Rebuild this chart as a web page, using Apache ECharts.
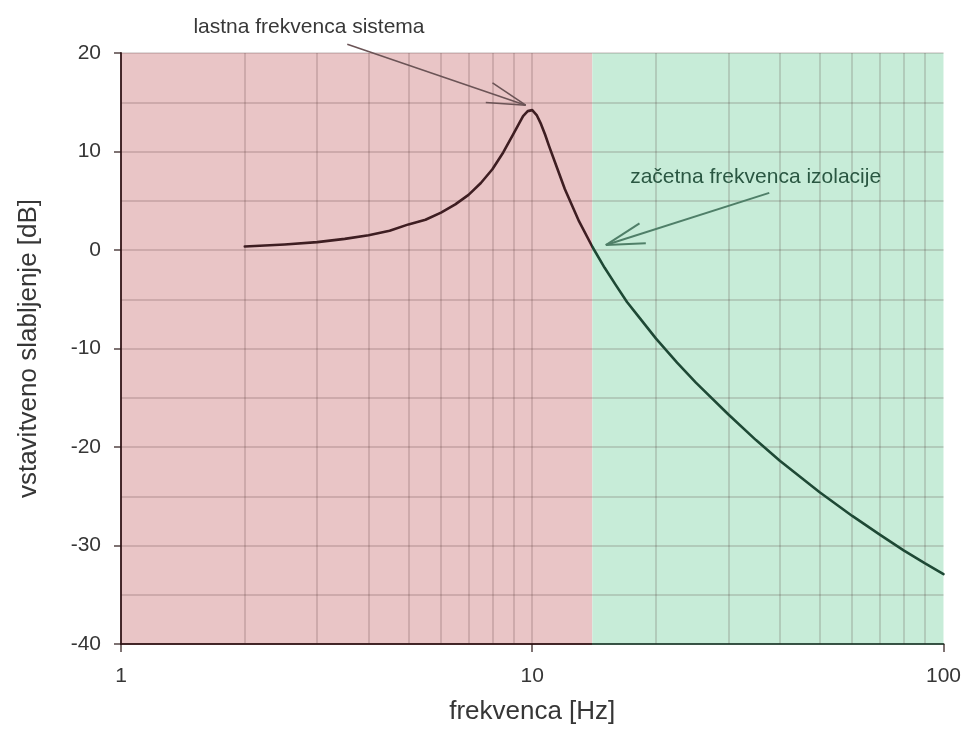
<!DOCTYPE html>
<html>
<head>
<meta charset="utf-8">
<script src="https://cdn.jsdelivr.net/npm/echarts@6/dist/echarts.min.js"></script>
<style>
  html, body { margin: 0; padding: 0; background: #ffffff; }
  #chart { width: 964px; height: 734px; }
</style>
</head>
<body>
<div id="chart"></div>
<script>
// Insertion loss of a spring-mounted system versus excitation frequency
const freqHz = [2, 2.5, 3, 3.5, 4, 4.5, 5, 5.5, 6, 6.5, 7, 7.5, 8, 8.5, 9, 9.25, 9.5, 9.75, 10, 10.25, 10.5, 10.75, 11, 11.5, 12, 13, 14, 15, 16, 17, 18, 20, 22.5, 25, 30, 35, 40, 50, 60, 70, 80, 90, 100];
const lossDb = [0.35, 0.56, 0.8, 1.13, 1.5, 1.95, 2.6, 3.07, 3.8, 4.63, 5.6, 6.8, 8.2, 9.9, 11.8, 12.7, 13.6, 14.1, 14.2, 13.7, 12.8, 11.7, 10.5, 8.3, 6.2, 2.9, 0.33, -1.81, -3.62, -5.28, -6.59, -9.0, -11.43, -13.47, -16.7, -19.3, -21.4, -24.6, -27.0, -28.9, -30.5, -31.8, -32.9];

// frequency where isolation begins
const isolationStart = 14;
const resonanceZone = [1, isolationStart];
const isolationZone = [isolationStart, 100];

// vertical grid positions inside the decades
const gridFreq = [2, 3, 4, 5, 6, 7, 8, 9, 10, 20, 30, 40, 50, 60, 70, 80, 90];

const yTicks = { min: -40, max: 20, step: 10 };

const labels = {
  xName: 'frekvenca [Hz]',
  yName: 'vstavitveno slabljenje [dB]',
  resonance: 'lastna frekvenca sistema',
  isolation: 'začetna frekvenca izolacije'
};

// annotation anchors in data space: caption (left, middle), arrow start, arrow tip
const resonanceNote = { text: [1.5, 22.64], from: [3.55, 20.9], to: [9.64, 14.7] };
const isolationNote = { text: [17.3, 7.41], from: [37.7, 5.8], to: [15.1, 0.5] };

const FONT = "'Liberation Sans', Arial, sans-serif";
const gridColor = 'rgba(70, 35, 35, 0.22)';
const redInk = '#3e1e22';
const greenInk = '#1e4935';

const chart = echarts.init(document.getElementById('chart'), null, { renderer: 'canvas' });

const data = freqHz.map((f, i) => [f, lossDb[i]]);

const option = {
  animation: false,
  backgroundColor: '#ffffff',
  grid: { left: 121, right: 20, top: 53, bottom: 90, containLabel: false },
  xAxis: {
    type: 'log',
    logBase: 10,
    min: 1,
    max: 100,
    z: 3,
    name: labels.xName,
    nameLocation: 'middle',
    nameGap: 55,
    nameTextStyle: { fontFamily: FONT, fontSize: 26, color: '#363636' },
    axisLine: { show: true, onZero: false, lineStyle: { color: 'rgba(40, 20, 20, 0.85)', width: 2 } },
    axisTick: { show: true, length: 8, inside: false, lineStyle: { color: 'rgba(40, 20, 20, 0.8)', width: 1.5 } },
    axisLabel: { fontFamily: FONT, fontSize: 21, color: '#363636', margin: 22 },
    splitLine: { show: false },
    minorTick: { show: false },
    minorSplitLine: { show: false }
  },
  yAxis: {
    type: 'value',
    min: yTicks.min,
    max: yTicks.max,
    interval: yTicks.step,
    z: 3,
    name: labels.yName,
    nameLocation: 'middle',
    nameGap: 79,
    nameTextStyle: { fontFamily: FONT, fontSize: 26, color: '#363636' },
    axisLine: { show: true, onZero: false, lineStyle: { color: 'rgba(50, 20, 22, 0.9)', width: 2 } },
    axisTick: { show: true, length: 7, inside: false, lineStyle: { color: 'rgba(40, 20, 20, 0.8)', width: 1.5 } },
    axisLabel: { fontFamily: FONT, fontSize: 21, color: '#363636', margin: 20 },
    splitLine: { show: true, lineStyle: { color: gridColor, width: 1.5 } },
    minorTick: { show: false, splitNumber: 2 },
    minorSplitLine: { show: true, lineStyle: { color: gridColor, width: 1.5 } }
  },
  series: [
    {
      name: 'zones',
      type: 'line',
      data: [],
      z: 1,
      silent: true,
      markArea: {
        silent: true,
        data: [
          [
            { coord: [resonanceZone[0], yTicks.min], itemStyle: { color: '#e9c5c6' } },
            { coord: [resonanceZone[1], yTicks.max] }
          ],
          [
            { coord: [isolationZone[0], yTicks.min], itemStyle: { color: '#c7ecd8' } },
            { coord: [isolationZone[1], yTicks.max] }
          ]
        ]
      }
    },
    {
      name: 'vgrid',
      type: 'line',
      data: [],
      z: 3,
      silent: true,
      markLine: {
        silent: true,
        symbol: 'none',
        label: { show: false },
        lineStyle: { color: gridColor, width: 1.5, type: 'solid' },
        data: gridFreq.map(f => ({ xAxis: f }))
      }
    },
    {
      name: 'slabljenje',
      type: 'line',
      data: data,
      z: 5,
      smooth: false,
      showSymbol: false,
      symbol: 'none',
      lineStyle: { width: 2.6, color: redInk, join: 'round', cap: 'round' }
    }
  ]
};
chart.setOption(option);

// Ink colour switches at the start of the isolation zone (curve and x axis line)
const xSplit = chart.convertToPixel({ gridIndex: 0 }, [isolationStart, 0])[0];
const xLeft = chart.convertToPixel({ gridIndex: 0 }, [1, 0])[0];
const xRight = chart.convertToPixel({ gridIndex: 0 }, [100, 0])[0];
const t = (xSplit - xLeft) / (xRight - xLeft);
function zoneGradient(c1, c2) {
  return new echarts.graphic.LinearGradient(xLeft, 0, xRight, 0, [
    { offset: 0, color: c1 },
    { offset: t, color: c1 },
    { offset: t, color: c2 },
    { offset: 1, color: c2 }
  ], true);
}

// Annotation arrows and captions positioned through the chart's own scales
function arrowElements(note, color, width) {
  const p0 = chart.convertToPixel({ gridIndex: 0 }, note.from);
  const p1 = chart.convertToPixel({ gridIndex: 0 }, note.to);
  const ang = Math.atan2(p0[1] - p1[1], p0[0] - p1[0]);
  const barbLen = 40;
  const spread = 15 * Math.PI / 180;
  const els = [
    { type: 'line', shape: { x1: p0[0], y1: p0[1], x2: p1[0], y2: p1[1] }, style: { stroke: color, lineWidth: width }, z: 20 }
  ];
  [-spread, spread].forEach(d => {
    els.push({
      type: 'line',
      shape: { x1: p1[0], y1: p1[1], x2: p1[0] + barbLen * Math.cos(ang + d), y2: p1[1] + barbLen * Math.sin(ang + d) },
      style: { stroke: color, lineWidth: width },
      z: 20
    });
  });
  return els;
}

function caption(note, text, color) {
  const p = chart.convertToPixel({ gridIndex: 0 }, note.text);
  return {
    type: 'text',
    x: p[0],
    y: p[1],
    z: 20,
    style: { text: text, fill: color, font: '21px ' + FONT, textAlign: 'left', textVerticalAlign: 'middle' }
  };
}

chart.setOption({
  xAxis: { axisLine: { lineStyle: { color: zoneGradient('rgba(50, 20, 22, 0.9)', 'rgba(30, 60, 45, 0.85)') } } },
  series: [{}, {}, { lineStyle: { color: zoneGradient(redInk, greenInk) } }],
  graphic: [
    ...arrowElements(resonanceNote, '#6b5456', 1.6),
    caption(resonanceNote, labels.resonance, '#383838'),
    ...arrowElements(isolationNote, '#4f7f68', 2),
    caption(isolationNote, labels.isolation, '#2a5742')
  ]
});
</script>
</body>
</html>
